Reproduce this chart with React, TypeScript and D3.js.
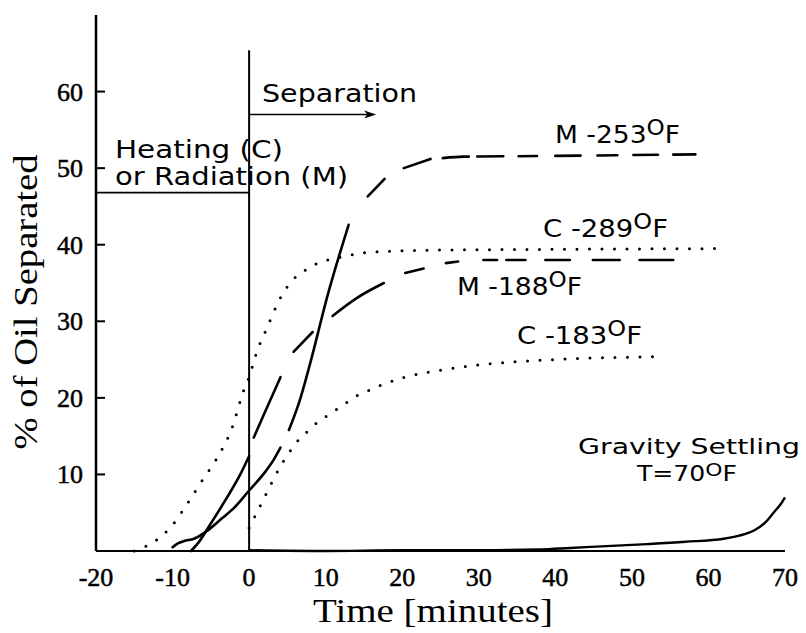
import React from "react";
import * as d3 from "d3";

type P = [number, number];

const X_TICKS = [-20, -10, 0, 10, 20, 30, 40, 50, 60, 70];
const Y_TICKS = [10, 20, 30, 40, 50, 60];

// C -289°F (dotted)
const c289: P[] = [
  [-15, 0], [-12, 1.5], [-10, 3.4], [-8, 6.3], [-6, 9.4], [-3.8, 12.8], [-2.3, 15.9],
  [-0.7, 21.0], [0, 22.7], [1, 26.0], [2.4, 29.3], [3.8, 32.5], [5.7, 35.4], [7.1, 36.5],
  [8.6, 37.4], [12, 38.4], [17, 39.1], [25, 39.3], [40, 39.4], [62, 39.5],
];
// C -183°F (dotted)
const c183: P[] = [
  [0, 3.0], [1, 5.0], [2, 7.0], [3, 9.0], [4, 10.9], [5.2, 12.8], [6.2, 14.2], [7.4, 15.4],
  [8.8, 16.7], [10.1, 17.6], [11.6, 18.6], [12.9, 19.5], [14.3, 20.4], [16, 21.1],
  [17.6, 21.8], [20, 22.6], [25, 23.6], [30, 24.3], [40, 25.0], [54, 25.4],
];
// M -253°F (solid start, then long dashes)
const m253: P[] = [
  [-10, 0.5], [-9.3, 1.0], [-8.5, 1.3], [-7.2, 1.6], [-5.4, 2.7], [-3.5, 4.3], [-2, 5.6],
  [0, 7.9], [2, 10.2], [3.2, 11.9], [4.1, 13.5], [5.2, 15.8], [6.5, 19.3], [8, 24.6],
  [10.2, 33.2], [13, 42.6], [15.5, 46.3], [17.7, 48.6], [20.2, 50.0], [23.7, 51.2],
  [28, 51.5], [40, 51.6], [58.3, 51.8],
];
// M -188°F (solid start, then dashes)
const m188: P[] = [
  [-7.6, 0], [-6.7, 1.0], [-5, 3.6], [-3, 6.8], [-1, 10.3], [0, 12.4], [0.6, 14.8],
  [2, 18.0], [4.1, 22.7], [5.8, 26.0], [8.3, 28.6], [10.9, 30.7], [14, 33.0], [17.6, 35.0],
  [20.4, 36.3], [22.8, 36.9], [25.7, 37.6], [27.3, 37.8], [30, 38.0], [40, 38.0], [55.4, 38.0],
];
// Gravity settling, T=70°F
const gravity: P[] = [
  [0, 0.1], [10, 0.0], [20, 0.1], [30, 0.1], [38, 0.2], [42, 0.4], [46, 0.6], [52, 0.9],
  [57, 1.2], [62, 1.6], [64, 2.0], [66, 2.7], [67.5, 3.8], [68.5, 5.0], [69.5, 6.2], [70, 7.0],
];

// drawn pieces (x-ranges, in minutes) of the dashed M curves
const m253Pieces: P[] = [
  [-10, 4.1], [5.2, 13.0], [15.5, 17.7], [20.2, 23.7], [25.3, 28.7], [29.8, 33.2],
  [35.2, 37.6], [40, 43.3], [45.5, 48.1], [50.2, 53.4], [55.4, 58.3],
];
const m188Pieces: P[] = [
  [-7.6, 0], [0.6, 4.1], [5.8, 8.3], [10.9, 17.6], [20.4, 22.8], [25.7, 27.3],
  [30.6, 32.4], [33.6, 36.1], [38.7, 41.9], [44.9, 48.4], [51, 55.4],
];

const W = 806;
const H = 633;
const x = d3.scaleLinear().domain([-20, 70]).range([96, 785]);
const y = d3.scaleLinear().domain([0, 70]).range([551, 15]);

function interp(data: P[], t: number): number {
  for (let i = 0; i < data.length - 1; i++) {
    const [x0, y0] = data[i];
    const [x1, y1] = data[i + 1];
    if (t >= x0 && t <= x1) return y0 + ((t - x0) / (x1 - x0)) * (y1 - y0);
  }
  return data[data.length - 1][1];
}
function piece(data: P[], a: number, b: number): P[] {
  const pts: P[] = [[a, interp(data, a)]];
  data.forEach((d) => {
    if (d[0] > a && d[0] < b) pts.push(d);
  });
  pts.push([b, interp(data, b)]);
  return pts;
}

const line = d3
  .line<P>()
  .x((d) => x(d[0]))
  .y((d) => y(d[1]))
  .curve(d3.curveMonotoneX);

const SANS = "'DejaVu Sans', sans-serif";
const SERIF = "'Liberation Serif', 'Times New Roman', serif";

function Deg({ xx, yy, pre, len, fs = 24, up = 8 }: { xx: number; yy: number; pre: string; len: number; fs?: number; up?: number }) {
  return (
    <text x={xx} y={yy} fontFamily={SANS} fontSize={fs} textLength={len} lengthAdjust="spacingAndGlyphs">
      {pre}
      <tspan dy={-up} fontSize={fs * 0.87}>O</tspan>
      <tspan dy={up}>F</tspan>
    </text>
  );
}

export default function App() {
  const ink = "#000";
  return (
    <svg width={W} height={H} style={{ display: "block", position: "absolute", left: 0, top: 0 }}>
      <rect width={W} height={H} fill="#fff" />
      {/* axes */}
      <line x1={x(-20)} x2={x(-20)} y1={y(70)} y2={y(0)} stroke={ink} strokeWidth={2.5} />
      <line x1={x(-20)} x2={x(70)} y1={y(0)} y2={y(0)} stroke={ink} strokeWidth={2} />
      {Y_TICKS.map((t) => (
        <g key={t}>
          <line x1={x(-20)} x2={x(-20) + 9} y1={y(t)} y2={y(t)} stroke={ink} strokeWidth={2} />
          <text x={83} y={y(t) + 9} textAnchor="end" fontFamily={SERIF} fontSize={26} fill={ink} stroke={ink} strokeWidth={0.5}>
            {t}
          </text>
        </g>
      ))}
      {X_TICKS.map((t) => (
        <text key={t} x={x(t)} y={586} textAnchor="middle" fontFamily={SERIF} fontSize={26} fill={ink} stroke={ink} strokeWidth={0.5}>
          {t}
        </text>
      ))}
      <text x={433} y={622} textAnchor="middle" fontFamily={SERIF} fontSize={33} textLength={240} lengthAdjust="spacingAndGlyphs">
        Time [minutes]
      </text>
      <text
        transform="translate(37,302) rotate(-90)"
        textAnchor="middle"
        fontFamily={SERIF}
        fontSize={33}
        textLength={295}
        lengthAdjust="spacingAndGlyphs"
      >
        % of Oil Separated
      </text>

      {/* phase markers */}
      <line x1={x(0)} x2={x(0)} y1={y(65.4)} y2={y(0)} stroke={ink} strokeWidth={2} />
      <line x1={x(-20)} x2={x(0)} y1={y(46.8)} y2={y(46.8)} stroke={ink} strokeWidth={1.8} />
      <line x1={x(0)} x2={x(16.6) - 8} y1={y(57)} y2={y(57)} stroke={ink} strokeWidth={1.6} />
      <path
        d={`M${x(16.6)},${y(57)} L${x(16.6) - 12},${y(57) - 4} L${x(16.6) - 9},${y(57)} L${x(16.6) - 12},${y(57) + 4} Z`}
        fill={ink}
      />

      {/* dotted C curves */}
      {[c289, c183].map((d, i) => (
        <path
          key={i}
          d={line(d) || ""}
          fill="none"
          stroke={ink}
          strokeWidth={3}
          strokeLinecap="round"
          strokeDasharray="0 12.5"
        />
      ))}
      {/* dashed M curves */}
      {m253Pieces.map(([a, b], i) => (
        <path key={"a" + i} d={line(piece(m253, a, b)) || ""} fill="none" stroke={ink} strokeWidth={2.6} strokeLinecap="round" />
      ))}
      {m188Pieces.map(([a, b], i) => (
        <path key={"b" + i} d={line(piece(m188, a, b)) || ""} fill="none" stroke={ink} strokeWidth={2.6} strokeLinecap="round" />
      ))}
      <path d={line(gravity) || ""} fill="none" stroke={ink} strokeWidth={2.4} />

      {/* annotations */}
      <text x={262} y={102} fontFamily={SANS} fontSize={24} textLength={155} lengthAdjust="spacingAndGlyphs">
        Separation
      </text>
      <text x={115} y={158} fontFamily={SANS} fontSize={24} textLength={168} lengthAdjust="spacingAndGlyphs">
        Heating (C)
      </text>
      <text x={115} y={185} fontFamily={SANS} fontSize={24} textLength={233} lengthAdjust="spacingAndGlyphs">
        or Radiation (M)
      </text>
      <Deg xx={555} yy={143} pre="M -253" len={125} />
      <Deg xx={543} yy={237} pre="C -289" len={125} />
      <Deg xx={457} yy={295} pre="M -188" len={125} />
      <Deg xx={517} yy={344} pre="C -183" len={125} />
      <text x={578} y={454} fontFamily={SANS} fontSize={21} textLength={222} lengthAdjust="spacingAndGlyphs">
        Gravity Settling
      </text>
      <Deg xx={637} yy={481} pre="T=70" len={100} fs={21} up={5} />
    </svg>
  );
}
